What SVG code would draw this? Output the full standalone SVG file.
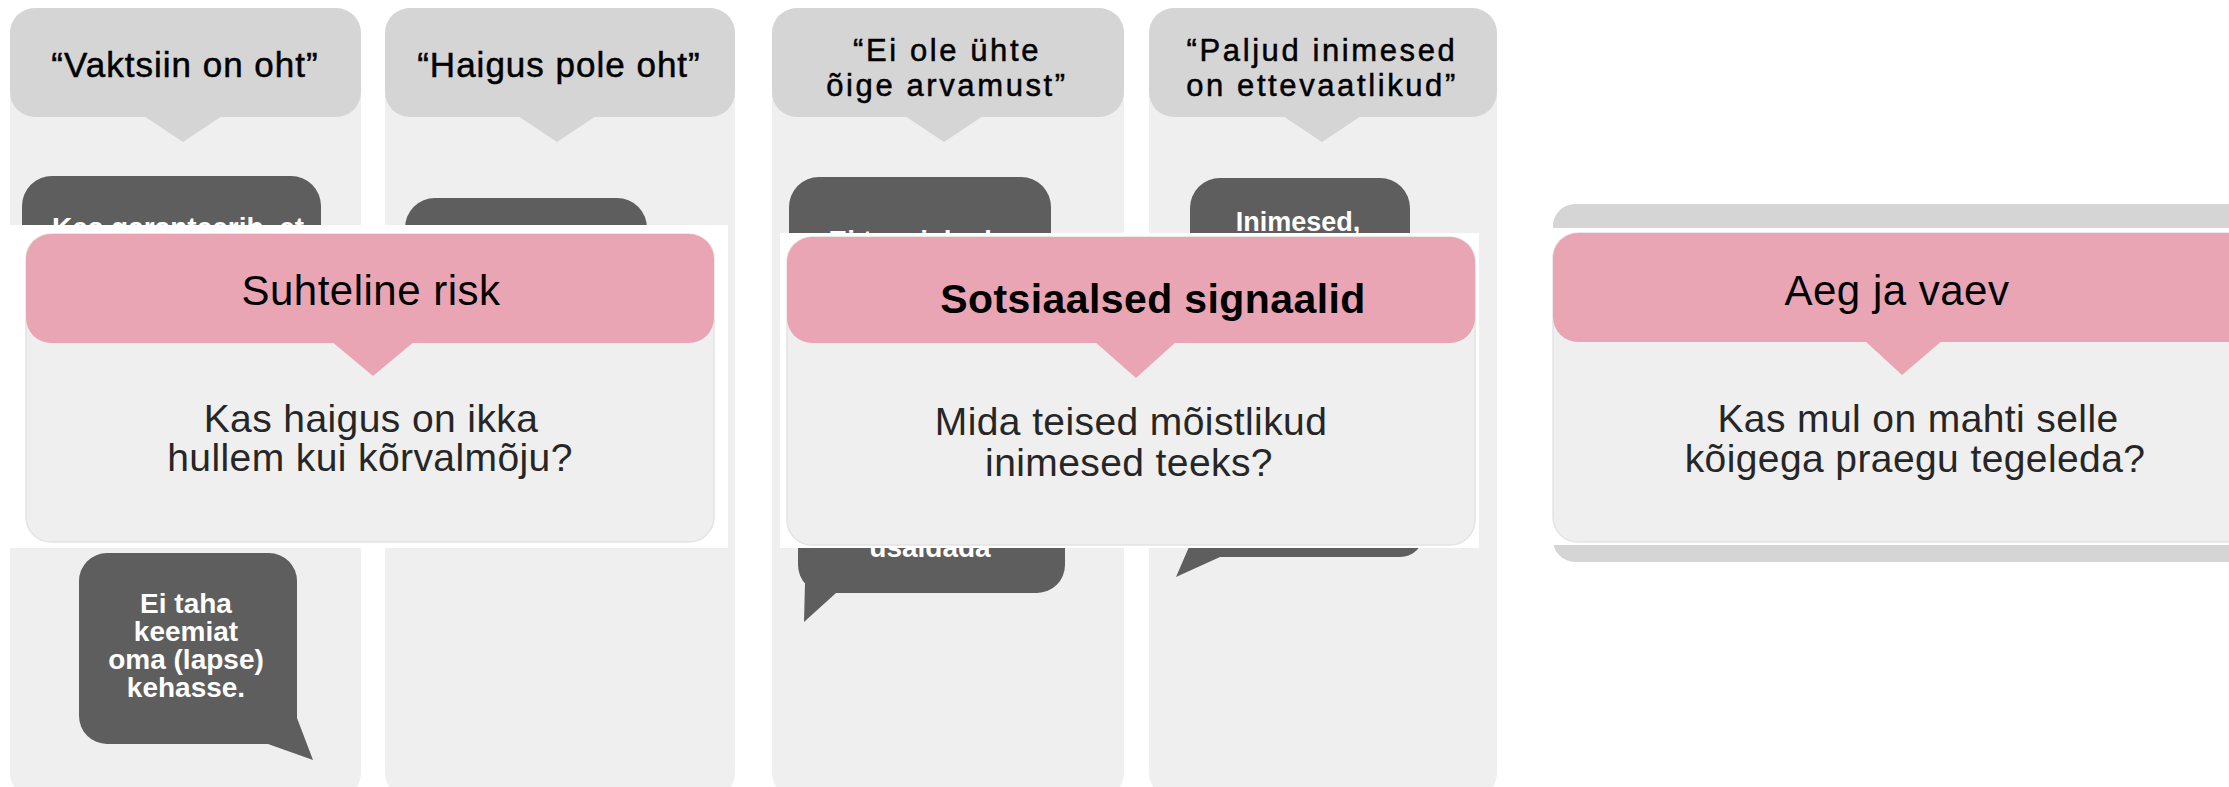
<svg xmlns="http://www.w3.org/2000/svg" width="2229" height="787" viewBox="0 0 2229 787">
<style>
text{font-family:"Liberation Sans",Arial,Helvetica,sans-serif;}
.panel{fill:#efefef;}
.hdr{fill:#d5d5d5;}
.hdrtxt{font-size:35px;fill:#000;stroke:#000;stroke-width:0.5px;text-anchor:middle;letter-spacing:1px;}
.hdr2{font-size:31px;letter-spacing:2.6px;}
.bub{fill:#5e5e5e;}
.bubtxt{font-size:28px;font-weight:bold;fill:#fff;text-anchor:middle;}
.white{fill:#fff;}
.card{fill:#efefef;stroke:#e4e4e4;stroke-width:1.5;}
.pink{fill:#eaa5b5;}
.title{font-size:42px;fill:#000;text-anchor:middle;letter-spacing:0.5px;}
.body{font-size:39px;fill:#262626;text-anchor:middle;letter-spacing:0.4px;}
</style>
<rect width="2229" height="787" fill="#fff"/>

<g id="col1">
<rect class="panel" x="10" y="8" width="351" height="790" rx="25"/>
<rect class="hdr" x="10" y="8" width="351" height="109" rx="25"/>
<polygon class="hdr" points="144,116 222,116 183,142"/>
<text class="hdrtxt" x="185" y="77">“Vaktsiin on oht”</text>
<rect class="bub" x="22" y="176" width="299" height="120" rx="30"/>
<text class="bubtxt" x="178" y="237">Kes garanteerib, et</text>
<rect class="bub" x="79" y="553" width="218" height="191" rx="28"/>
<polygon class="bub" points="268,700 297,700 297,718 313,760 268,744"/>
<text class="bubtxt" x="186" y="613"><tspan x="186">Ei taha</tspan><tspan x="186" dy="28">keemiat</tspan><tspan x="186" dy="28">oma (lapse)</tspan><tspan x="186" dy="28">kehasse.</tspan></text>
</g>

<g id="col2">
<rect class="panel" x="385" y="8" width="350" height="790" rx="25"/>
<rect class="hdr" x="385" y="8" width="350" height="109" rx="25"/>
<polygon class="hdr" points="518,116 596,116 557,142"/>
<text class="hdrtxt" x="559" y="77">“Haigus pole oht”</text>
<rect class="bub" x="405" y="198" width="242" height="100" rx="30"/>
</g>

<g id="col3">
<rect class="panel" x="772" y="8" width="352" height="790" rx="25"/>
<rect class="hdr" x="772" y="8" width="352" height="109" rx="25"/>
<polygon class="hdr" points="905,116 983,116 944,142"/>
<text class="hdrtxt hdr2" x="947" y="61"><tspan x="947">“Ei ole ühte</tspan><tspan x="947" dy="35">õige arvamust”</tspan></text>
<rect class="bub" x="789" y="177" width="262" height="120" rx="30"/>
<text class="bubtxt" x="918" y="250">Ei teagi, keda</text>
<rect class="bub" x="798" y="480" width="267" height="113" rx="28"/>
<polygon class="bub" points="798,560 805,583 804,622 836,593 860,593 860,560"/>
<text class="bubtxt" x="930" y="557">usaldada</text>
</g>

<g id="col4">
<rect class="panel" x="1149" y="8" width="348" height="790" rx="25"/>
<rect class="hdr" x="1149" y="8" width="348" height="109" rx="25"/>
<polygon class="hdr" points="1283,116 1361,116 1322,142"/>
<text class="hdrtxt hdr2" x="1322" y="61"><tspan x="1322">“Paljud inimesed</tspan><tspan x="1322" dy="35">on ettevaatlikud”</tspan></text>
<rect class="bub" x="1190" y="178" width="220" height="120" rx="30"/>
<text class="bubtxt" x="1298" y="231" style="font-size:27px">Inimesed,</text>
<rect class="bub" x="1190" y="480" width="234" height="77" rx="24"/>
<polygon class="bub" points="1190,530 1192,540 1176,577 1220,557 1220,530"/>
</g>

<g id="time-bg">
<rect class="hdr" x="1553" y="204" width="700" height="358" rx="22"/>
</g>

<g id="relative-risk">
<rect class="white" x="0" y="225" width="728" height="323"/>
<rect class="card" x="26" y="234" width="688" height="308" rx="25"/>
<rect class="pink" x="26" y="234" width="688" height="109" rx="25"/>
<polygon class="pink" points="331,341 415,341 373,376"/>
<text class="title" x="371" y="305">Suhteline risk</text>
<text class="body" x="371" y="432"><tspan x="371">Kas haigus on ikka</tspan><tspan x="370" dy="39">hullem kui kõrvalmõju?</tspan></text>
</g>

<g id="social-signals">
<rect class="white" x="780" y="233" width="699" height="315"/>
<rect class="card" x="787" y="237" width="688" height="308" rx="25"/>
<rect class="pink" x="787" y="237" width="688" height="106" rx="25"/>
<polygon class="pink" points="1094,341 1177,341 1136,378"/>
<text class="title" x="1153" y="313" style="font-weight:bold;font-size:41px;letter-spacing:0.4px">Sotsiaalsed signaalid</text>
<text class="body" x="1131" y="435"><tspan x="1131">Mida teised mõistlikud</tspan><tspan x="1129" dy="41">inimesed teeks?</tspan></text>
</g>

<g id="time-effort">
<rect class="white" x="1550" y="228" width="679" height="317"/>
<rect class="card" x="1553" y="233" width="700" height="309" rx="25"/>
<rect class="pink" x="1553" y="233" width="700" height="109" rx="25"/>
<polygon class="pink" points="1864,340 1943,340 1902,375"/>
<text class="title" x="1897" y="305">Aeg ja vaev</text>
<text class="body" x="1918" y="432"><tspan x="1918">Kas mul on mahti selle</tspan><tspan x="1915" dy="40">kõigega praegu tegeleda?</tspan></text>
</g>

<g id="connectors"></g>
</svg>
